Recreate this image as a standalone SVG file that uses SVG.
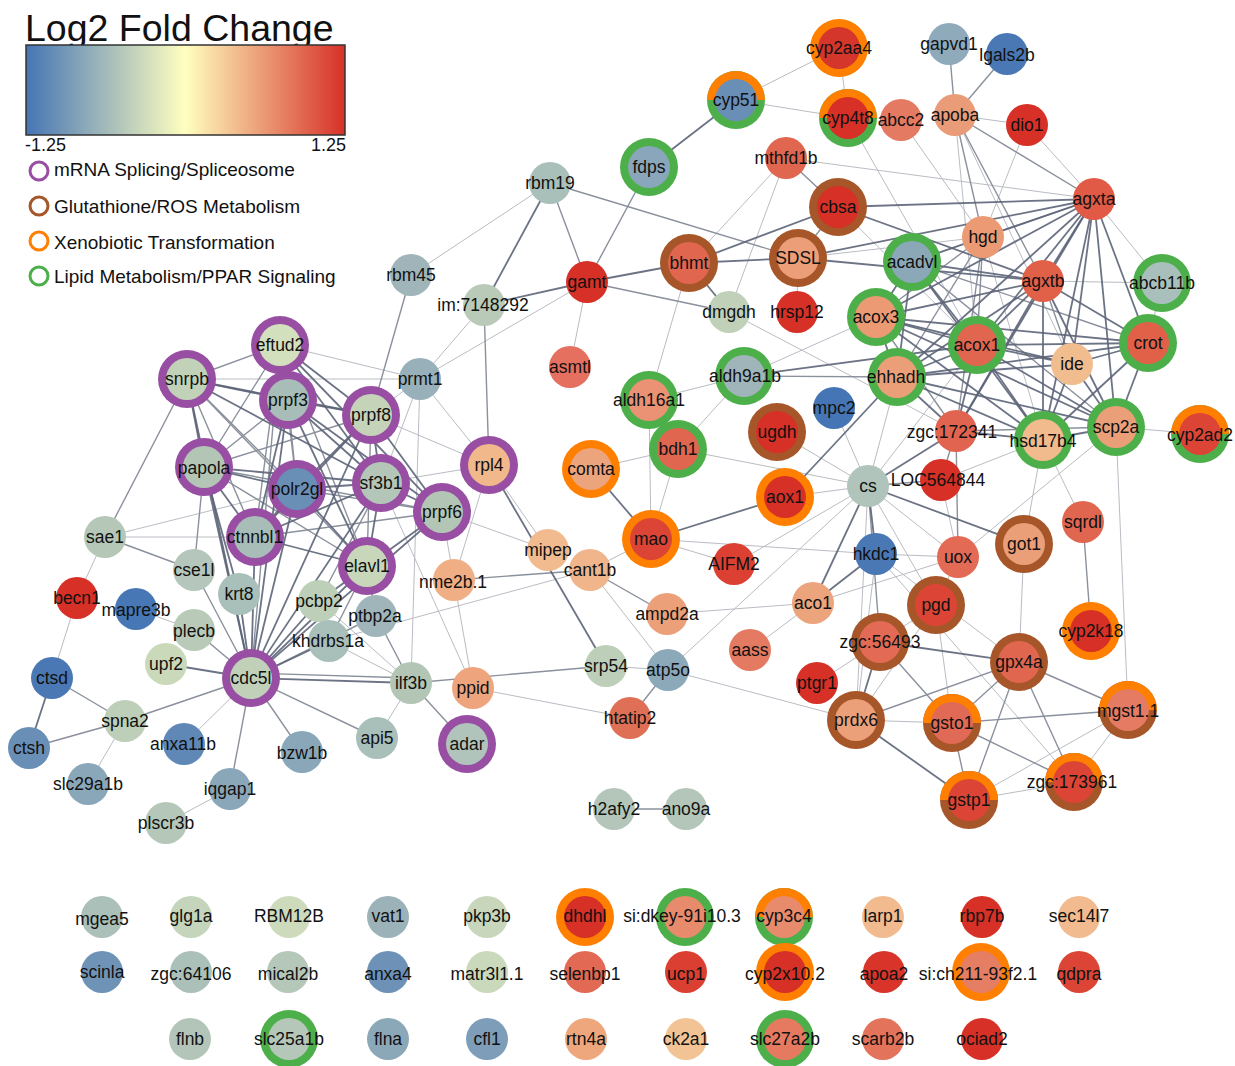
<svg xmlns="http://www.w3.org/2000/svg" width="1235" height="1066" viewBox="0 0 1235 1066">
<style>
.l{font-family:"Liberation Sans",Arial,sans-serif;font-size:17.5px;text-anchor:middle;fill:#111}
.lg{font-family:"Liberation Sans",Arial,sans-serif;font-size:19px;fill:#111}
.rp{fill:#984ea3}.rb{fill:#a65628}.ro{fill:#ff7f00}.rg{fill:#4daf4a}
.e1 line{stroke:#b9bcc3;stroke-width:1}
.e2 line{stroke:#8a909c;stroke-width:1.4}
.e3 line{stroke:#5c6478;stroke-width:1.8;stroke-opacity:0.9}
</style>
<defs>
<linearGradient id="lfc" x1="0" y1="0" x2="1" y2="0">
<stop offset="0" stop-color="#4575b4"/><stop offset="0.5" stop-color="#ffffbf"/><stop offset="1" stop-color="#d73027"/>
</linearGradient>
</defs>
<rect width="1235" height="1066" fill="#fff"/>
<g id="legend">
<text x="25" y="41" style="font-family:'Liberation Sans',Arial,sans-serif;font-size:37.5px;fill:#111">Log2 Fold Change</text>
<rect x="26" y="45" width="319" height="90" fill="url(#lfc)" stroke="#333" stroke-width="1.5"/>
<text x="25" y="151" class="lg" style="font-size:18px">-1.25</text>
<text x="346" y="151" class="lg" style="font-size:18px;text-anchor:end">1.25</text>
<circle cx="39" cy="171" r="9" fill="none" stroke="#984ea3" stroke-width="3"/>
<text x="54" y="176" class="lg">mRNA Splicing/Spliceosome</text>
<circle cx="39" cy="206" r="9" fill="none" stroke="#a65628" stroke-width="3"/>
<text x="54" y="213" class="lg">Glutathione/ROS Metabolism</text>
<circle cx="39" cy="241" r="9" fill="none" stroke="#ff7f00" stroke-width="3"/>
<text x="54" y="249" class="lg">Xenobiotic Transformation</text>
<circle cx="39" cy="276" r="9" fill="none" stroke="#4daf4a" stroke-width="3"/>
<text x="54" y="283" class="lg">Lipid Metabolism/PPAR Signaling</text>
</g>
<g id="connectors">
<g class="e1">
<line x1="411" y1="275" x2="550" y2="183"/>
<line x1="484" y1="305" x2="420" y2="379"/>
<line x1="587" y1="282" x2="420" y2="379"/>
<line x1="587" y1="282" x2="570" y2="367"/>
<line x1="736" y1="100" x2="839" y2="48"/>
<line x1="736" y1="100" x2="848" y2="118"/>
<line x1="839" y1="48" x2="848" y2="118"/>
<line x1="848" y1="118" x2="977" y2="345"/>
<line x1="901" y1="120" x2="983" y2="237"/>
<line x1="955" y1="115" x2="1027" y2="125"/>
<line x1="955" y1="115" x2="977" y2="345"/>
<line x1="955" y1="115" x2="1072" y2="364"/>
<line x1="1027" y1="125" x2="1094" y2="199"/>
<line x1="1027" y1="125" x2="983" y2="237"/>
<line x1="786" y1="158" x2="1094" y2="199"/>
<line x1="786" y1="158" x2="689" y2="263"/>
<line x1="786" y1="158" x2="729" y2="312"/>
<line x1="838" y1="207" x2="977" y2="345"/>
<line x1="798" y1="258" x2="797" y2="312"/>
<line x1="798" y1="258" x2="983" y2="237"/>
<line x1="689" y1="263" x2="649" y2="400"/>
<line x1="729" y1="312" x2="956" y2="431"/>
<line x1="1094" y1="199" x2="1162" y2="283"/>
<line x1="1043" y1="281" x2="1162" y2="283"/>
<line x1="983" y1="237" x2="1043" y2="440"/>
<line x1="983" y1="237" x2="912" y2="262"/>
<line x1="897" y1="377" x2="868" y2="486"/>
<line x1="1148" y1="343" x2="1162" y2="283"/>
<line x1="1116" y1="427" x2="1200" y2="434"/>
<line x1="1116" y1="427" x2="958" y2="557"/>
<line x1="1116" y1="427" x2="1128" y2="710"/>
<line x1="744" y1="376" x2="876" y2="317"/>
<line x1="744" y1="376" x2="649" y2="400"/>
<line x1="744" y1="376" x2="678" y2="449"/>
<line x1="649" y1="400" x2="651" y2="539"/>
<line x1="678" y1="449" x2="651" y2="539"/>
<line x1="678" y1="449" x2="591" y2="469"/>
<line x1="678" y1="449" x2="868" y2="486"/>
<line x1="651" y1="539" x2="590" y2="570"/>
<line x1="651" y1="539" x2="734" y2="564"/>
<line x1="651" y1="539" x2="876" y2="554"/>
<line x1="734" y1="564" x2="868" y2="486"/>
<line x1="785" y1="497" x2="868" y2="486"/>
<line x1="777" y1="432" x2="868" y2="486"/>
<line x1="489" y1="465" x2="548" y2="550"/>
<line x1="489" y1="465" x2="454" y2="580"/>
<line x1="371" y1="415" x2="489" y2="465"/>
<line x1="381" y1="483" x2="489" y2="465"/>
<line x1="420" y1="379" x2="489" y2="465"/>
<line x1="442" y1="512" x2="548" y2="550"/>
<line x1="590" y1="570" x2="668" y2="670"/>
<line x1="329" y1="641" x2="590" y2="570"/>
<line x1="667" y1="614" x2="813" y2="603"/>
<line x1="813" y1="603" x2="750" y2="650"/>
<line x1="813" y1="603" x2="958" y2="557"/>
<line x1="668" y1="670" x2="606" y2="666"/>
<line x1="668" y1="670" x2="868" y2="486"/>
<line x1="668" y1="670" x2="856" y2="720"/>
<line x1="473" y1="688" x2="630" y2="718"/>
<line x1="381" y1="483" x2="473" y2="688"/>
<line x1="442" y1="512" x2="473" y2="688"/>
<line x1="411" y1="683" x2="377" y2="738"/>
<line x1="411" y1="683" x2="329" y2="641"/>
<line x1="411" y1="683" x2="319" y2="601"/>
<line x1="420" y1="379" x2="411" y2="683"/>
<line x1="420" y1="379" x2="381" y2="483"/>
<line x1="280" y1="345" x2="420" y2="379"/>
<line x1="187" y1="379" x2="420" y2="379"/>
<line x1="371" y1="415" x2="420" y2="379"/>
<line x1="251" y1="678" x2="184" y2="744"/>
<line x1="105" y1="537" x2="255" y2="537"/>
<line x1="105" y1="537" x2="297" y2="489"/>
<line x1="105" y1="537" x2="77" y2="598"/>
<line x1="77" y1="598" x2="52" y2="678"/>
<line x1="136" y1="609" x2="194" y2="630"/>
<line x1="125" y1="721" x2="88" y2="784"/>
<line x1="230" y1="789" x2="166" y2="823"/>
<line x1="868" y1="486" x2="856" y2="720"/>
<line x1="868" y1="486" x2="936" y2="605"/>
<line x1="868" y1="486" x2="958" y2="557"/>
<line x1="868" y1="486" x2="834" y2="408"/>
<line x1="868" y1="486" x2="977" y2="345"/>
<line x1="876" y1="554" x2="1019" y2="662"/>
<line x1="876" y1="554" x2="1074" y2="782"/>
<line x1="876" y1="554" x2="958" y2="557"/>
<line x1="876" y1="554" x2="856" y2="720"/>
<line x1="1024" y1="544" x2="1019" y2="662"/>
<line x1="1043" y1="440" x2="1024" y2="544"/>
<line x1="1043" y1="440" x2="1083" y2="522"/>
<line x1="1043" y1="440" x2="941" y2="480"/>
<line x1="941" y1="480" x2="958" y2="557"/>
<line x1="880" y1="642" x2="817" y2="683"/>
<line x1="880" y1="642" x2="936" y2="605"/>
<line x1="936" y1="605" x2="952" y2="723"/>
<line x1="936" y1="605" x2="856" y2="720"/>
<line x1="936" y1="605" x2="958" y2="557"/>
<line x1="952" y1="723" x2="856" y2="720"/>
<line x1="969" y1="800" x2="1074" y2="782"/>
<line x1="969" y1="800" x2="1128" y2="710"/>
<line x1="1128" y1="710" x2="1074" y2="782"/>
</g>
<g class="e2">
<line x1="411" y1="275" x2="371" y2="415"/>
<line x1="550" y1="183" x2="587" y2="282"/>
<line x1="550" y1="183" x2="798" y2="258"/>
<line x1="484" y1="305" x2="489" y2="465"/>
<line x1="587" y1="282" x2="729" y2="312"/>
<line x1="587" y1="282" x2="649" y2="167"/>
<line x1="955" y1="115" x2="949" y2="44"/>
<line x1="955" y1="115" x2="1007" y2="54"/>
<line x1="955" y1="115" x2="1094" y2="199"/>
<line x1="955" y1="115" x2="983" y2="237"/>
<line x1="955" y1="115" x2="1043" y2="281"/>
<line x1="786" y1="158" x2="838" y2="207"/>
<line x1="838" y1="207" x2="798" y2="258"/>
<line x1="1094" y1="199" x2="983" y2="237"/>
<line x1="1043" y1="281" x2="1072" y2="364"/>
<line x1="983" y1="237" x2="876" y2="317"/>
<line x1="983" y1="237" x2="977" y2="345"/>
<line x1="983" y1="237" x2="897" y2="377"/>
<line x1="983" y1="237" x2="956" y2="431"/>
<line x1="912" y1="262" x2="1148" y2="343"/>
<line x1="912" y1="262" x2="1116" y2="427"/>
<line x1="876" y1="317" x2="956" y2="431"/>
<line x1="897" y1="377" x2="744" y2="376"/>
<line x1="1116" y1="427" x2="956" y2="431"/>
<line x1="454" y1="580" x2="590" y2="570"/>
<line x1="590" y1="570" x2="667" y2="614"/>
<line x1="668" y1="670" x2="630" y2="718"/>
<line x1="606" y1="666" x2="411" y2="683"/>
<line x1="411" y1="683" x2="467" y2="744"/>
<line x1="251" y1="673" x2="411" y2="678"/>
<line x1="411" y1="683" x2="376" y2="616"/>
<line x1="614" y1="809" x2="686" y2="809"/>
<line x1="280" y1="345" x2="187" y2="379"/>
<line x1="280" y1="345" x2="204" y2="467"/>
<line x1="280" y1="345" x2="297" y2="489"/>
<line x1="280" y1="345" x2="255" y2="537"/>
<line x1="280" y1="345" x2="251" y2="678"/>
<line x1="280" y1="345" x2="367" y2="566"/>
<line x1="187" y1="379" x2="297" y2="489"/>
<line x1="187" y1="379" x2="255" y2="537"/>
<line x1="187" y1="379" x2="367" y2="566"/>
<line x1="187" y1="379" x2="105" y2="537"/>
<line x1="288" y1="400" x2="204" y2="467"/>
<line x1="288" y1="400" x2="297" y2="489"/>
<line x1="371" y1="415" x2="204" y2="467"/>
<line x1="371" y1="415" x2="367" y2="566"/>
<line x1="204" y1="467" x2="367" y2="566"/>
<line x1="204" y1="467" x2="442" y2="512"/>
<line x1="297" y1="489" x2="442" y2="512"/>
<line x1="381" y1="483" x2="319" y2="601"/>
<line x1="255" y1="537" x2="442" y2="512"/>
<line x1="367" y1="566" x2="376" y2="616"/>
<line x1="367" y1="566" x2="329" y2="641"/>
<line x1="251" y1="678" x2="376" y2="616"/>
<line x1="251" y1="678" x2="194" y2="570"/>
<line x1="251" y1="678" x2="194" y2="630"/>
<line x1="251" y1="678" x2="125" y2="721"/>
<line x1="251" y1="678" x2="230" y2="789"/>
<line x1="251" y1="678" x2="302" y2="752"/>
<line x1="251" y1="678" x2="377" y2="738"/>
<line x1="105" y1="537" x2="194" y2="570"/>
<line x1="194" y1="570" x2="204" y2="467"/>
<line x1="52" y1="678" x2="125" y2="721"/>
<line x1="29" y1="748" x2="125" y2="721"/>
<line x1="868" y1="486" x2="880" y2="642"/>
<line x1="868" y1="486" x2="941" y2="480"/>
<line x1="956" y1="431" x2="958" y2="557"/>
<line x1="956" y1="431" x2="941" y2="480"/>
<line x1="1083" y1="522" x2="1091" y2="631"/>
<line x1="880" y1="642" x2="952" y2="723"/>
<line x1="1019" y1="662" x2="856" y2="720"/>
<line x1="1019" y1="662" x2="952" y2="723"/>
<line x1="1019" y1="662" x2="969" y2="800"/>
<line x1="1019" y1="662" x2="1074" y2="782"/>
<line x1="1019" y1="662" x2="1128" y2="710"/>
<line x1="952" y1="723" x2="1128" y2="710"/>
<line x1="952" y1="723" x2="969" y2="800"/>
<line x1="952" y1="723" x2="1074" y2="782"/>
</g>
<g class="e3">
<line x1="550" y1="183" x2="484" y2="305"/>
<line x1="484" y1="305" x2="587" y2="282"/>
<line x1="587" y1="282" x2="689" y2="263"/>
<line x1="649" y1="167" x2="736" y2="100"/>
<line x1="838" y1="207" x2="1094" y2="199"/>
<line x1="838" y1="207" x2="689" y2="263"/>
<line x1="838" y1="207" x2="1043" y2="281"/>
<line x1="798" y1="258" x2="689" y2="263"/>
<line x1="798" y1="258" x2="1043" y2="281"/>
<line x1="798" y1="258" x2="1094" y2="199"/>
<line x1="689" y1="263" x2="729" y2="312"/>
<line x1="1094" y1="199" x2="1043" y2="281"/>
<line x1="1094" y1="199" x2="912" y2="262"/>
<line x1="1094" y1="199" x2="876" y2="317"/>
<line x1="1094" y1="199" x2="977" y2="345"/>
<line x1="1094" y1="199" x2="897" y2="377"/>
<line x1="1094" y1="199" x2="1148" y2="343"/>
<line x1="1094" y1="199" x2="1072" y2="364"/>
<line x1="1094" y1="199" x2="1043" y2="440"/>
<line x1="1094" y1="199" x2="1116" y2="427"/>
<line x1="1094" y1="199" x2="956" y2="431"/>
<line x1="1043" y1="281" x2="912" y2="262"/>
<line x1="1043" y1="281" x2="876" y2="317"/>
<line x1="1043" y1="281" x2="977" y2="345"/>
<line x1="1043" y1="281" x2="897" y2="377"/>
<line x1="1043" y1="281" x2="1148" y2="343"/>
<line x1="1043" y1="281" x2="1043" y2="440"/>
<line x1="1043" y1="281" x2="1116" y2="427"/>
<line x1="1043" y1="281" x2="956" y2="431"/>
<line x1="912" y1="262" x2="876" y2="317"/>
<line x1="912" y1="262" x2="977" y2="345"/>
<line x1="912" y1="262" x2="897" y2="377"/>
<line x1="912" y1="262" x2="1043" y2="440"/>
<line x1="876" y1="317" x2="977" y2="345"/>
<line x1="876" y1="317" x2="897" y2="377"/>
<line x1="876" y1="317" x2="1148" y2="343"/>
<line x1="876" y1="317" x2="1072" y2="364"/>
<line x1="876" y1="317" x2="1043" y2="440"/>
<line x1="876" y1="317" x2="1116" y2="427"/>
<line x1="977" y1="345" x2="897" y2="377"/>
<line x1="977" y1="345" x2="1148" y2="343"/>
<line x1="977" y1="345" x2="1072" y2="364"/>
<line x1="977" y1="345" x2="1043" y2="440"/>
<line x1="977" y1="345" x2="1116" y2="427"/>
<line x1="977" y1="345" x2="956" y2="431"/>
<line x1="897" y1="377" x2="1148" y2="343"/>
<line x1="897" y1="377" x2="1072" y2="364"/>
<line x1="897" y1="377" x2="1043" y2="440"/>
<line x1="897" y1="377" x2="1116" y2="427"/>
<line x1="897" y1="377" x2="956" y2="431"/>
<line x1="1148" y1="343" x2="1072" y2="364"/>
<line x1="1148" y1="343" x2="1043" y2="440"/>
<line x1="1148" y1="343" x2="1116" y2="427"/>
<line x1="1072" y1="364" x2="1043" y2="440"/>
<line x1="1072" y1="364" x2="1116" y2="427"/>
<line x1="1043" y1="440" x2="1116" y2="427"/>
<line x1="1043" y1="440" x2="956" y2="431"/>
<line x1="744" y1="376" x2="977" y2="345"/>
<line x1="591" y1="469" x2="651" y2="539"/>
<line x1="651" y1="539" x2="785" y2="497"/>
<line x1="785" y1="497" x2="897" y2="377"/>
<line x1="489" y1="465" x2="606" y2="666"/>
<line x1="411" y1="683" x2="251" y2="678"/>
<line x1="280" y1="345" x2="288" y2="400"/>
<line x1="280" y1="345" x2="371" y2="415"/>
<line x1="280" y1="345" x2="381" y2="483"/>
<line x1="280" y1="345" x2="442" y2="512"/>
<line x1="187" y1="379" x2="288" y2="400"/>
<line x1="187" y1="379" x2="371" y2="415"/>
<line x1="187" y1="379" x2="204" y2="467"/>
<line x1="187" y1="379" x2="381" y2="483"/>
<line x1="187" y1="379" x2="251" y2="678"/>
<line x1="288" y1="400" x2="371" y2="415"/>
<line x1="288" y1="400" x2="381" y2="483"/>
<line x1="288" y1="400" x2="255" y2="537"/>
<line x1="288" y1="400" x2="251" y2="678"/>
<line x1="288" y1="400" x2="367" y2="566"/>
<line x1="288" y1="400" x2="442" y2="512"/>
<line x1="371" y1="415" x2="297" y2="489"/>
<line x1="371" y1="415" x2="381" y2="483"/>
<line x1="371" y1="415" x2="255" y2="537"/>
<line x1="371" y1="415" x2="251" y2="678"/>
<line x1="371" y1="415" x2="442" y2="512"/>
<line x1="204" y1="467" x2="297" y2="489"/>
<line x1="204" y1="467" x2="381" y2="483"/>
<line x1="204" y1="467" x2="255" y2="537"/>
<line x1="204" y1="467" x2="251" y2="678"/>
<line x1="204" y1="467" x2="239" y2="594"/>
<line x1="297" y1="489" x2="381" y2="483"/>
<line x1="297" y1="489" x2="255" y2="537"/>
<line x1="297" y1="489" x2="251" y2="678"/>
<line x1="297" y1="489" x2="367" y2="566"/>
<line x1="381" y1="483" x2="255" y2="537"/>
<line x1="381" y1="483" x2="251" y2="678"/>
<line x1="381" y1="483" x2="367" y2="566"/>
<line x1="381" y1="483" x2="442" y2="512"/>
<line x1="255" y1="537" x2="251" y2="678"/>
<line x1="255" y1="537" x2="367" y2="566"/>
<line x1="367" y1="566" x2="251" y2="678"/>
<line x1="367" y1="566" x2="442" y2="512"/>
<line x1="367" y1="566" x2="319" y2="601"/>
<line x1="442" y1="512" x2="251" y2="678"/>
<line x1="251" y1="678" x2="239" y2="594"/>
<line x1="251" y1="678" x2="319" y2="601"/>
<line x1="251" y1="678" x2="329" y2="641"/>
<line x1="251" y1="678" x2="166" y2="664"/>
<line x1="52" y1="678" x2="29" y2="748"/>
<line x1="868" y1="486" x2="876" y2="554"/>
<line x1="868" y1="486" x2="1024" y2="544"/>
<line x1="868" y1="486" x2="956" y2="431"/>
<line x1="868" y1="486" x2="813" y2="603"/>
<line x1="813" y1="603" x2="876" y2="554"/>
<line x1="880" y1="642" x2="1019" y2="662"/>
<line x1="880" y1="642" x2="856" y2="720"/>
<line x1="969" y1="800" x2="856" y2="720"/>
</g>
</g>
<g id="nodes">
<g id="n-rbm19"><circle cx="550" cy="183" r="21" fill="#a9bfb9"/><text class="l" x="550" y="189">rbm19</text></g>
<g id="n-rbm45"><circle cx="411" cy="275" r="21" fill="#9fb5b9"/><text class="l" x="411" y="281">rbm45</text></g>
<g id="n-im7148292"><circle cx="484" cy="305" r="21" fill="#b9cbb8"/><text class="l" x="483" y="311">im:7148292</text></g>
<g id="n-gamt"><circle cx="587" cy="282" r="21" fill="#d73027"/><text class="l" x="587" y="288">gamt</text></g>
<g id="n-dmgdh"><circle cx="729" cy="312" r="21" fill="#c1d1b9"/><text class="l" x="729" y="318">dmgdh</text></g>
<g id="n-hrsp12"><circle cx="797" cy="312" r="21" fill="#d73027"/><text class="l" x="797" y="318">hrsp12</text></g>
<g id="n-mthfd1b"><circle cx="786" cy="158" r="21" fill="#e06650"/><text class="l" x="786" y="164">mthfd1b</text></g>
<g id="n-gapvd1"><circle cx="949" cy="44" r="21" fill="#8eaabb"/><text class="l" x="949" y="50">gapvd1</text></g>
<g id="n-lgals2b"><circle cx="1007" cy="54" r="21" fill="#4a78b5"/><text class="l" x="1007" y="61">lgals2b</text></g>
<g id="n-abcc2"><circle cx="901" cy="120" r="21" fill="#e57a62"/><text class="l" x="901" y="126">abcc2</text></g>
<g id="n-apoba"><circle cx="955" cy="115" r="21" fill="#ea9c78"/><text class="l" x="955" y="121">apoba</text></g>
<g id="n-dio1"><circle cx="1027" cy="125" r="21" fill="#d73027"/><text class="l" x="1027" y="131">dio1</text></g>
<g id="n-agxta"><circle cx="1094" cy="199" r="21" fill="#e05a46"/><text class="l" x="1094" y="205">agxta</text></g>
<g id="n-hgd"><circle cx="983" cy="237" r="21" fill="#eb9a74"/><text class="l" x="983" y="243">hgd</text></g>
<g id="n-agxtb"><circle cx="1043" cy="281" r="21" fill="#e06048"/><text class="l" x="1043" y="287">agxtb</text></g>
<g id="n-ide"><circle cx="1072" cy="364" r="21" fill="#f1bd8f"/><text class="l" x="1072" y="370">ide</text></g>
<g id="n-mpc2"><circle cx="834" cy="408" r="21" fill="#4575b4"/><text class="l" x="834" y="414">mpc2</text></g>
<g id="n-zgc172341"><circle cx="956" cy="431" r="21" fill="#e06450"/><text class="l" x="952" y="438">zgc:172341</text></g>
<g id="n-LOC564844"><circle cx="941" cy="480" r="21" fill="#d73027"/><text class="l" x="938" y="486">LOC564844</text></g>
<g id="n-cs"><circle cx="868" cy="486" r="21" fill="#b0c4bb"/><text class="l" x="868" y="492">cs</text></g>
<g id="n-hkdc1"><circle cx="876" cy="554" r="21" fill="#4a78b5"/><text class="l" x="876" y="560">hkdc1</text></g>
<g id="n-uox"><circle cx="958" cy="557" r="21" fill="#e36a55"/><text class="l" x="958" y="563">uox</text></g>
<g id="n-sqrdl"><circle cx="1083" cy="522" r="21" fill="#e06650"/><text class="l" x="1083" y="528">sqrdl</text></g>
<g id="n-aco1"><circle cx="813" cy="603" r="21" fill="#eca47c"/><text class="l" x="813" y="609">aco1</text></g>
<g id="n-ptgr1"><circle cx="817" cy="683" r="21" fill="#d73027"/><text class="l" x="817" y="689">ptgr1</text></g>
<g id="n-asmtl"><circle cx="570" cy="367" r="21" fill="#e57060"/><text class="l" x="570" y="373">asmtl</text></g>
<g id="n-AIFM2"><circle cx="734" cy="564" r="21" fill="#dc4032"/><text class="l" x="734" y="570">AIFM2</text></g>
<g id="n-mipep"><circle cx="548" cy="550" r="21" fill="#f1bb8f"/><text class="l" x="548" y="556">mipep</text></g>
<g id="n-cant1b"><circle cx="590" cy="570" r="21" fill="#f0b58a"/><text class="l" x="590" y="576">cant1b</text></g>
<g id="n-nme2b-1"><circle cx="454" cy="580" r="21" fill="#f0ae85"/><text class="l" x="453" y="588">nme2b.1</text></g>
<g id="n-ampd2a"><circle cx="667" cy="614" r="21" fill="#eca07a"/><text class="l" x="667" y="620">ampd2a</text></g>
<g id="n-aass"><circle cx="750" cy="650" r="21" fill="#e57a62"/><text class="l" x="750" y="656">aass</text></g>
<g id="n-srp54"><circle cx="606" cy="666" r="21" fill="#bdcfb9"/><text class="l" x="606" y="672">srp54</text></g>
<g id="n-atp5o"><circle cx="668" cy="670" r="21" fill="#8ba9b9"/><text class="l" x="668" y="676">atp5o</text></g>
<g id="n-htatip2"><circle cx="630" cy="718" r="21" fill="#e07055"/><text class="l" x="630" y="724">htatip2</text></g>
<g id="n-ppid"><circle cx="473" cy="688" r="21" fill="#eea47c"/><text class="l" x="473" y="694">ppid</text></g>
<g id="n-ilf3b"><circle cx="411" cy="683" r="21" fill="#b3c6b6"/><text class="l" x="411" y="689">ilf3b</text></g>
<g id="n-h2afy2"><circle cx="614" cy="809" r="21" fill="#b3c6b9"/><text class="l" x="614" y="815">h2afy2</text></g>
<g id="n-ano9a"><circle cx="686" cy="809" r="21" fill="#b3c6b9"/><text class="l" x="686" y="815">ano9a</text></g>
<g id="n-prmt1"><circle cx="420" cy="379" r="21" fill="#98b0b9"/><text class="l" x="420" y="385">prmt1</text></g>
<g id="n-sae1"><circle cx="105" cy="537" r="21" fill="#b5c7b7"/><text class="l" x="105" y="543">sae1</text></g>
<g id="n-cse1l"><circle cx="194" cy="570" r="21" fill="#b5c7bc"/><text class="l" x="194" y="576">cse1l</text></g>
<g id="n-krt8"><circle cx="239" cy="594" r="21" fill="#a9bfb9"/><text class="l" x="239" y="600">krt8</text></g>
<g id="n-becn1"><circle cx="77" cy="598" r="21" fill="#d73027"/><text class="l" x="77" y="604">becn1</text></g>
<g id="n-mapre3b"><circle cx="136" cy="609" r="21" fill="#4777b4"/><text class="l" x="136" y="616">mapre3b</text></g>
<g id="n-plecb"><circle cx="194" cy="630" r="21" fill="#b9cbb8"/><text class="l" x="194" y="637">plecb</text></g>
<g id="n-pcbp2"><circle cx="319" cy="601" r="21" fill="#bdcfb9"/><text class="l" x="319" y="607">pcbp2</text></g>
<g id="n-ptbp2a"><circle cx="376" cy="616" r="21" fill="#9fb5b9"/><text class="l" x="375" y="622">ptbp2a</text></g>
<g id="n-khdrbs1a"><circle cx="329" cy="641" r="21" fill="#a9bfba"/><text class="l" x="328" y="647">khdrbs1a</text></g>
<g id="n-upf2"><circle cx="166" cy="664" r="21" fill="#cbd9bb"/><text class="l" x="166" y="670">upf2</text></g>
<g id="n-ctsd"><circle cx="52" cy="678" r="21" fill="#4a78b5"/><text class="l" x="52" y="684">ctsd</text></g>
<g id="n-spna2"><circle cx="125" cy="721" r="21" fill="#bdcfb9"/><text class="l" x="125" y="727">spna2</text></g>
<g id="n-ctsh"><circle cx="29" cy="748" r="21" fill="#6a8fb7"/><text class="l" x="29" y="754">ctsh</text></g>
<g id="n-anxa11b"><circle cx="184" cy="744" r="21" fill="#5f88b7"/><text class="l" x="183" y="750">anxa11b</text></g>
<g id="n-bzw1b"><circle cx="302" cy="752" r="21" fill="#8aa7ba"/><text class="l" x="302" y="759">bzw1b</text></g>
<g id="n-api5"><circle cx="377" cy="738" r="21" fill="#a9bfb9"/><text class="l" x="377" y="744">api5</text></g>
<g id="n-slc29a1b"><circle cx="88" cy="784" r="21" fill="#8aa7ba"/><text class="l" x="88" y="790">slc29a1b</text></g>
<g id="n-iqgap1"><circle cx="230" cy="789" r="21" fill="#8aa7ba"/><text class="l" x="230" y="795">iqgap1</text></g>
<g id="n-plscr3b"><circle cx="166" cy="823" r="21" fill="#b5c7b8"/><text class="l" x="166" y="829">plscr3b</text></g>

<g id="n-cyp2aa4"><circle cx="839" cy="48" r="29" class="ro"/><circle cx="839" cy="48" r="21" fill="#d5362c"/><text class="l" x="839" y="54">cyp2aa4</text></g>
<g id="n-cyp4t8"><circle cx="848" cy="118" r="29" class="rg"/><path d="M819,118 A29,29 0 0 1 877,118 Z" class="ro"/><circle cx="848" cy="118" r="21" fill="#d73027"/><text class="l" x="848" y="124">cyp4t8</text></g>
<g id="n-cyp51"><circle cx="736" cy="100" r="29" class="rg"/><path d="M707,100 A29,29 0 0 1 765,100 Z" class="ro"/><circle cx="736" cy="100" r="21" fill="#6a8fb7"/><text class="l" x="736" y="106">cyp51</text></g>
<g id="n-fdps"><circle cx="649" cy="167" r="29" class="rg"/><circle cx="649" cy="167" r="21" fill="#8aa6ba"/><text class="l" x="649" y="173">fdps</text></g>
<g id="n-cbsa"><circle cx="838" cy="207" r="29" class="rb"/><circle cx="838" cy="207" r="21" fill="#d73027"/><text class="l" x="838" y="213">cbsa</text></g>
<g id="n-SDSL"><circle cx="798" cy="258" r="29" class="rb"/><circle cx="798" cy="258" r="21" fill="#eb9e78"/><text class="l" x="798" y="264">SDSL</text></g>
<g id="n-bhmt"><circle cx="689" cy="263" r="29" class="rb"/><circle cx="689" cy="263" r="21" fill="#e06650"/><text class="l" x="689" y="269">bhmt</text></g>
<g id="n-acadvl"><circle cx="912" cy="262" r="29" class="rg"/><circle cx="912" cy="262" r="21" fill="#8ba8b9"/><text class="l" x="912" y="268">acadvl</text></g>
<g id="n-abcb11b"><circle cx="1162" cy="283" r="29" class="rg"/><circle cx="1162" cy="283" r="21" fill="#a9bfbc"/><text class="l" x="1162" y="289">abcb11b</text></g>
<g id="n-acox3"><circle cx="876" cy="317" r="29" class="rg"/><circle cx="876" cy="317" r="21" fill="#eb9a74"/><text class="l" x="876" y="323">acox3</text></g>
<g id="n-acox1"><circle cx="977" cy="345" r="29" class="rg"/><circle cx="977" cy="345" r="21" fill="#e06650"/><text class="l" x="977" y="351">acox1</text></g>
<g id="n-crot"><circle cx="1148" cy="343" r="29" class="rg"/><circle cx="1148" cy="343" r="21" fill="#e06048"/><text class="l" x="1148" y="349">crot</text></g>
<g id="n-ehhadh"><circle cx="897" cy="377" r="29" class="rg"/><circle cx="897" cy="377" r="21" fill="#eb9f78"/><text class="l" x="896" y="383">ehhadh</text></g>
<g id="n-hsd17b4"><circle cx="1043" cy="440" r="29" class="rg"/><circle cx="1043" cy="440" r="21" fill="#f1bb8e"/><text class="l" x="1043" y="447">hsd17b4</text></g>
<g id="n-scp2a"><circle cx="1116" cy="427" r="29" class="rg"/><circle cx="1116" cy="427" r="21" fill="#eb9f78"/><text class="l" x="1116" y="433">scp2a</text></g>
<g id="n-cyp2ad2"><circle cx="1200" cy="434" r="29" class="rg"/><path d="M1171,434 A29,29 0 0 1 1229,434 Z" class="ro"/><circle cx="1200" cy="434" r="21" fill="#dc4535"/><text class="l" x="1200" y="441">cyp2ad2</text></g>
<g id="n-got1"><circle cx="1024" cy="544" r="29" class="rb"/><circle cx="1024" cy="544" r="21" fill="#eb9f78"/><text class="l" x="1024" y="550">got1</text></g>
<g id="n-cyp2k18"><circle cx="1091" cy="631" r="29" class="ro"/><circle cx="1091" cy="631" r="21" fill="#d73027"/><text class="l" x="1091" y="637">cyp2k18</text></g>
<g id="n-pgd"><circle cx="936" cy="605" r="29" class="rb"/><circle cx="936" cy="605" r="21" fill="#dc4535"/><text class="l" x="936" y="611">pgd</text></g>
<g id="n-zgc56493"><circle cx="880" cy="642" r="29" class="rb"/><circle cx="880" cy="642" r="21" fill="#e36a55"/><text class="l" x="880" y="648">zgc:56493</text></g>
<g id="n-gpx4a"><circle cx="1019" cy="662" r="29" class="rb"/><circle cx="1019" cy="662" r="21" fill="#e06650"/><text class="l" x="1019" y="668">gpx4a</text></g>
<g id="n-prdx6"><circle cx="856" cy="720" r="29" class="rb"/><circle cx="856" cy="720" r="21" fill="#eba07a"/><text class="l" x="856" y="726">prdx6</text></g>
<g id="n-gsto1"><circle cx="952" cy="723" r="29" class="rb"/><path d="M923,723 A29,29 0 0 1 981,723 Z" class="ro"/><circle cx="952" cy="723" r="21" fill="#e06a55"/><text class="l" x="952" y="729">gsto1</text></g>
<g id="n-mgst1-1"><circle cx="1128" cy="710" r="29" class="rb"/><path d="M1099,710 A29,29 0 0 1 1157,710 Z" class="ro"/><circle cx="1128" cy="710" r="21" fill="#e57b62"/><text class="l" x="1128" y="717">mgst1.1</text></g>
<g id="n-zgc173961"><circle cx="1074" cy="782" r="29" class="rb"/><path d="M1045,782 A29,29 0 0 1 1103,782 Z" class="ro"/><circle cx="1074" cy="782" r="21" fill="#dc4535"/><text class="l" x="1072" y="788">zgc:173961</text></g>
<g id="n-gstp1"><circle cx="969" cy="800" r="29" class="rb"/><path d="M940,800 A29,29 0 0 1 998,800 Z" class="ro"/><circle cx="969" cy="800" r="21" fill="#dc4535"/><text class="l" x="969" y="806">gstp1</text></g>
<g id="n-aldh16a1"><circle cx="649" cy="400" r="29" class="rg"/><circle cx="649" cy="400" r="21" fill="#eb9274"/><text class="l" x="649" y="406">aldh16a1</text></g>
<g id="n-aldh9a1b"><circle cx="744" cy="376" r="29" class="rg"/><circle cx="744" cy="376" r="21" fill="#9fb5b9"/><text class="l" x="745" y="382">aldh9a1b</text></g>
<g id="n-bdh1"><circle cx="678" cy="449" r="29" class="rg"/><circle cx="678" cy="449" r="21" fill="#e06650"/><text class="l" x="678" y="455">bdh1</text></g>
<g id="n-ugdh"><circle cx="777" cy="432" r="29" class="rb"/><circle cx="777" cy="432" r="21" fill="#d73027"/><text class="l" x="777" y="438">ugdh</text></g>
<g id="n-comta"><circle cx="591" cy="469" r="29" class="ro"/><circle cx="591" cy="469" r="21" fill="#eca47c"/><text class="l" x="591" y="475">comta</text></g>
<g id="n-aox1"><circle cx="785" cy="497" r="29" class="ro"/><circle cx="785" cy="497" r="21" fill="#d73027"/><text class="l" x="785" y="503">aox1</text></g>
<g id="n-mao"><circle cx="651" cy="539" r="29" class="ro"/><circle cx="651" cy="539" r="21" fill="#dc4535"/><text class="l" x="651" y="545">mao</text></g>
<g id="n-rpl4"><circle cx="489" cy="465" r="29" class="rp"/><circle cx="489" cy="465" r="21" fill="#f1b88c"/><text class="l" x="489" y="471">rpl4</text></g>
<g id="n-prpf6"><circle cx="442" cy="512" r="29" class="rp"/><circle cx="442" cy="512" r="21" fill="#b3c6b6"/><text class="l" x="442" y="518">prpf6</text></g>
<g id="n-adar"><circle cx="467" cy="744" r="29" class="rp"/><circle cx="467" cy="744" r="21" fill="#b0c4bb"/><text class="l" x="467" y="750">adar</text></g>
<g id="n-eftud2"><circle cx="280" cy="345" r="29" class="rp"/><circle cx="280" cy="345" r="21" fill="#d3e0bd"/><text class="l" x="280" y="351">eftud2</text></g>
<g id="n-snrpb"><circle cx="187" cy="379" r="29" class="rp"/><circle cx="187" cy="379" r="21" fill="#c2d2b9"/><text class="l" x="187" y="385">snrpb</text></g>
<g id="n-prpf3"><circle cx="288" cy="400" r="29" class="rp"/><circle cx="288" cy="400" r="21" fill="#a8bdb8"/><text class="l" x="288" y="406">prpf3</text></g>
<g id="n-prpf8"><circle cx="371" cy="415" r="29" class="rp"/><circle cx="371" cy="415" r="21" fill="#c5d4b9"/><text class="l" x="371" y="421">prpf8</text></g>
<g id="n-papola"><circle cx="204" cy="467" r="29" class="rp"/><circle cx="204" cy="467" r="21" fill="#b3c6b6"/><text class="l" x="204" y="474">papola</text></g>
<g id="n-polr2gl"><circle cx="297" cy="489" r="29" class="rp"/><circle cx="297" cy="489" r="21" fill="#6a8fb7"/><text class="l" x="297" y="495">polr2gl</text></g>
<g id="n-sf3b1"><circle cx="381" cy="483" r="29" class="rp"/><circle cx="381" cy="483" r="21" fill="#b4c6b7"/><text class="l" x="381" y="489">sf3b1</text></g>
<g id="n-ctnnbl1"><circle cx="255" cy="537" r="29" class="rp"/><circle cx="255" cy="537" r="21" fill="#a8bdb8"/><text class="l" x="255" y="543">ctnnbl1</text></g>
<g id="n-elavl1"><circle cx="367" cy="566" r="29" class="rp"/><circle cx="367" cy="566" r="21" fill="#c8d6ba"/><text class="l" x="367" y="572">elavl1</text></g>
<g id="n-cdc5l"><circle cx="251" cy="678" r="29" class="rp"/><circle cx="251" cy="678" r="21" fill="#c0d0b9"/><text class="l" x="251" y="684">cdc5l</text></g>
</g>
<g id="isolated">
<g id="n-mgea5"><circle cx="102" cy="917" r="21" fill="#abc0b9"/><text class="l" x="102" y="925">mgea5</text></g>
<g id="n-glg1a"><circle cx="191" cy="917" r="21" fill="#c5d5bb"/><text class="l" x="191" y="922">glg1a</text></g>
<g id="n-RBM12B"><circle cx="289" cy="917" r="21" fill="#cddbbc"/><text class="l" x="289" y="922">RBM12B</text></g>
<g id="n-vat1"><circle cx="388" cy="917" r="21" fill="#9bb2b9"/><text class="l" x="388" y="922">vat1</text></g>
<g id="n-pkp3b"><circle cx="487" cy="917" r="21" fill="#c8d7bb"/><text class="l" x="487" y="922">pkp3b</text></g>
<g id="n-dhdhl"><circle cx="585" cy="917" r="29" class="ro"/><circle cx="585" cy="917" r="21" fill="#d73027"/><text class="l" x="585" y="922">dhdhl</text></g>
<g id="n-si-dkey-91i10-3"><circle cx="685" cy="917" r="29" class="rg"/><circle cx="685" cy="917" r="21" fill="#e88a6c"/><text class="l" x="682" y="922">si:dkey-91i10.3</text></g>
<g id="n-cyp3c4"><circle cx="784" cy="917" r="29" class="rg"/><path d="M755,917 A29,29 0 0 1 813,917 Z" class="ro"/><circle cx="784" cy="917" r="21" fill="#e88a6c"/><text class="l" x="784" y="922">cyp3c4</text></g>
<g id="n-larp1"><circle cx="883" cy="917" r="21" fill="#f1bb8f"/><text class="l" x="883" y="922">larp1</text></g>
<g id="n-rbp7b"><circle cx="982" cy="917" r="21" fill="#d73027"/><text class="l" x="982" y="922">rbp7b</text></g>
<g id="n-sec14l7"><circle cx="1079" cy="917" r="21" fill="#f1bb8f"/><text class="l" x="1079" y="922">sec14l7</text></g>
<g id="n-scinla"><circle cx="102" cy="972" r="21" fill="#6f93b7"/><text class="l" x="102" y="978">scinla</text></g>
<g id="n-zgc64106"><circle cx="191" cy="972" r="21" fill="#aac0b9"/><text class="l" x="191" y="980">zgc:64106</text></g>
<g id="n-mical2b"><circle cx="288" cy="972" r="21" fill="#b5c7b8"/><text class="l" x="288" y="980">mical2b</text></g>
<g id="n-anxa4"><circle cx="388" cy="972" r="21" fill="#6d91b7"/><text class="l" x="388" y="980">anxa4</text></g>
<g id="n-matr3l1-1"><circle cx="487" cy="972" r="21" fill="#cad8bb"/><text class="l" x="487" y="980">matr3l1.1</text></g>
<g id="n-selenbp1"><circle cx="585" cy="972" r="21" fill="#e26a55"/><text class="l" x="585" y="980">selenbp1</text></g>
<g id="n-ucp1"><circle cx="686" cy="972" r="21" fill="#da3f31"/><text class="l" x="686" y="980">ucp1</text></g>
<g id="n-cyp2x10-2"><circle cx="785" cy="972" r="29" class="ro"/><circle cx="785" cy="972" r="21" fill="#d73027"/><text class="l" x="785" y="980">cyp2x10.2</text></g>
<g id="n-apoa2"><circle cx="884" cy="972" r="21" fill="#d83429"/><text class="l" x="884" y="980">apoa2</text></g>
<g id="n-si-ch211-93f2-1"><circle cx="981" cy="972" r="29" class="ro"/><circle cx="981" cy="972" r="21" fill="#e57e62"/><text class="l" x="978" y="980">si:ch211-93f2.1</text></g>
<g id="n-qdpra"><circle cx="1079" cy="972" r="21" fill="#dc4535"/><text class="l" x="1079" y="980">qdpra</text></g>
<g id="n-flnb"><circle cx="190" cy="1039" r="21" fill="#b3c5b8"/><text class="l" x="190" y="1045">flnb</text></g>
<g id="n-slc25a1b"><circle cx="289" cy="1039" r="29" class="rg"/><circle cx="289" cy="1039" r="21" fill="#b5c7b8"/><text class="l" x="289" y="1045">slc25a1b</text></g>
<g id="n-flna"><circle cx="388" cy="1039" r="21" fill="#8ba8b9"/><text class="l" x="388" y="1045">flna</text></g>
<g id="n-cfl1"><circle cx="487" cy="1039" r="21" fill="#7d9db8"/><text class="l" x="487" y="1045">cfl1</text></g>
<g id="n-rtn4a"><circle cx="586" cy="1039" r="21" fill="#eea67c"/><text class="l" x="586" y="1045">rtn4a</text></g>
<g id="n-ck2a1"><circle cx="686" cy="1039" r="21" fill="#f2c495"/><text class="l" x="686" y="1045">ck2a1</text></g>
<g id="n-slc27a2b"><circle cx="785" cy="1039" r="29" class="rg"/><circle cx="785" cy="1039" r="21" fill="#e57a60"/><text class="l" x="785" y="1045">slc27a2b</text></g>
<g id="n-scarb2b"><circle cx="883" cy="1039" r="21" fill="#e3735b"/><text class="l" x="883" y="1045">scarb2b</text></g>
<g id="n-ociad2"><circle cx="982" cy="1039" r="21" fill="#d73027"/><text class="l" x="982" y="1045">ociad2</text></g>
</g>
</svg>
